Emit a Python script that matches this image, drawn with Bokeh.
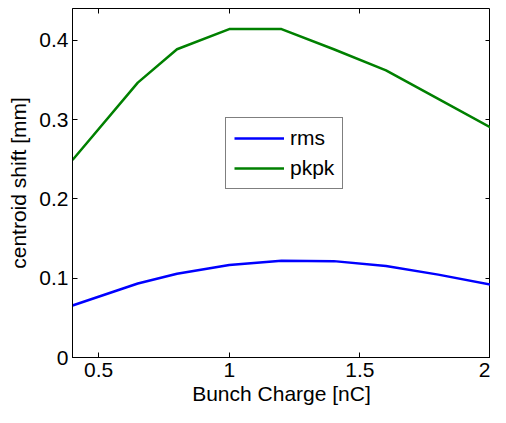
from bokeh.plotting import figure
from bokeh.models import Range1d, FixedTicker, LinearAxis, Legend, LegendItem, CustomJSTickFormatter
from bokeh.embed import file_html
from bokeh.resources import INLINE

charge = [0.4, 0.65, 0.8, 1.0, 1.2, 1.4, 1.6, 1.8, 2.0]
rms = [0.0655, 0.0933, 0.1055, 0.1166, 0.1220, 0.1215, 0.1153, 0.1045, 0.0920]
pkpk = [0.249, 0.3465, 0.3886, 0.414, 0.414, 0.3886, 0.362, 0.326, 0.290]
x_ticks = [0.5, 1.0, 1.5, 2.0]
y_ticks = [0.0, 0.1, 0.2, 0.3, 0.4]

FONT = "Liberation Sans"
FS = "21px"

p = figure(width=490, height=407, output_backend="svg", toolbar_location=None,
           x_range=Range1d(0.4, 2.0), y_range=Range1d(0, 0.44),
           min_border_left=72, min_border_right=0, min_border_top=8, min_border_bottom=46)
p.background_fill_color = "white"
p.border_fill_color = "white"
p.outline_line_color = "black"
p.outline_line_width = 1
p.xgrid.visible = False
p.ygrid.visible = False

def style_axis(ax, ticks, show_labels=True):
    ax.ticker = FixedTicker(ticks=ticks)
    ax.major_tick_in = 5
    ax.major_tick_out = 0
    ax.minor_tick_in = 0
    ax.minor_tick_out = 0
    ax.major_tick_line_color = "black"
    ax.axis_line_color = "black"
    ax.major_label_text_font = FONT
    ax.major_label_text_color = "black"
    ax.major_label_text_font_size = FS
    ax.axis_label_text_font = FONT
    ax.axis_label_text_font_style = "normal"
    ax.axis_label_text_font_size = FS
    ax.axis_label_text_color = "black"
    if not show_labels:
        ax.formatter = CustomJSTickFormatter(code="return '';")
        ax.major_label_standoff = 0
        ax.axis_line_color = None

style_axis(p.xaxis[0], x_ticks)
style_axis(p.yaxis[0], y_ticks)
p.xaxis[0].axis_label = "Bunch Charge [nC]"
p.yaxis[0].axis_label = "centroid shift [mm]"
p.xaxis[0].major_label_standoff = 5
p.xaxis[0].axis_label_standoff = 2
p.yaxis[0].major_label_standoff = 4
p.yaxis[0].axis_label_standoff = 6
p.xaxis[0].major_label_overrides = {0.5: "0.5", 1.0: "1", 1.5: "1.5", 2.0: "2"}
p.yaxis[0].major_label_overrides = {0.0: "0", 0.1: "0.1", 0.2: "0.2", 0.3: "0.3", 0.4: "0.4"}

top = LinearAxis()
style_axis(top, x_ticks, show_labels=False)
p.add_layout(top, "above")
right = LinearAxis()
style_axis(right, y_ticks, show_labels=False)
p.add_layout(right, "right")

r1 = p.line(charge, rms, line_color="#0000FF", line_width=2.5)
r2 = p.line(charge, pkpk, line_color="#008000", line_width=2.5)

legend = Legend(items=[LegendItem(label="rms", renderers=[r1]),
                       LegendItem(label="pkpk", renderers=[r2])],
                location=(153, 168))
legend.label_text_font = FONT
legend.label_text_font_size = FS
legend.label_text_color = "black"
legend.label_standoff = 6
legend.label_height = 20
legend.glyph_height = 20
legend.glyph_width = 50
legend.spacing = 6
legend.padding = 8
legend.margin = 0
legend.border_line_color = "black"
legend.border_line_width = 1
legend.background_fill_color = "white"
legend.background_fill_alpha = 1
p.add_layout(legend, "center")

open("out.html", "w").write(file_html(p, INLINE))
